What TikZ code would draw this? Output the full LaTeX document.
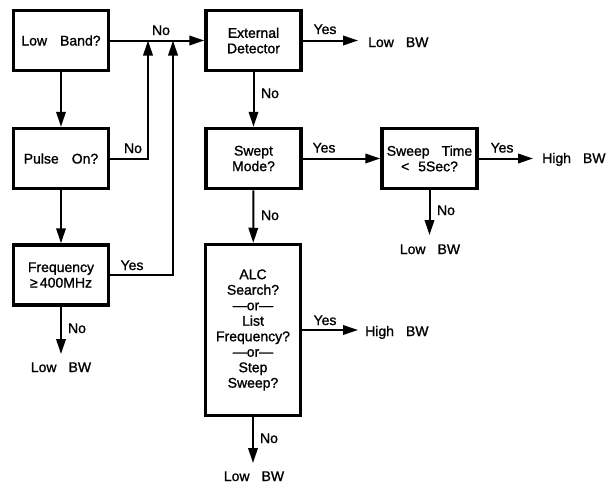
\documentclass[tikz,border=0pt]{standalone}
\usepackage{fontspec}
\newfontfamily\diagfont[FakeBold=1.2]{Liberation Sans}
\usetikzlibrary{arrows.meta}
\begin{document}
\begin{tikzpicture}[x=1pt,y=-1pt,
  box/.style={draw, line width=3.5pt, inner sep=0pt, align=center,
    minimum width=95pt, minimum height=60pt, font=\diagfont\fontsize{14}{15.5}\selectfont},
  arr/.style={line width=2pt, -{Triangle[length=15pt,width=9.5pt]}},
  lbl/.style={inner sep=0pt, anchor=base, font=\diagfont\fontsize{14}{15.5}\selectfont}]
\useasboundingbox (0,0) rectangle (608,485);
% boxes
\node[box] (b1) at (61,40.5) {Low\hspace{13pt}Band?};
\node[box] (ext) at (253.5,40.5) {External\\Detector};
\node[box] (pulse) at (61,158.5) {Pulse\hspace{13pt}On?};
\node[box] (freq) at (61,275) {Frequency\\≥\,400MHz};
\node[box] (swept) at (253.5,158.5) {Swept\\Mode?};
\node[box, minimum height=171pt] (alc) at (253,330) {ALC\\Search?\\—or—\\List\\Frequency?\\—or—\\Step\\Sweep?};
\node[box] (stime) at (429.5,158.5) {Sweep\hspace{12pt}Time\\<\hspace{9pt}5Sec?};
% coordinates
\coordinate (j1) at (148,40.5);
\coordinate (j2) at (173,40.5);
\coordinate (e1) at (61,354);
\coordinate (e2) at (358,40.5);
\coordinate (e3) at (533,158.5);
\coordinate (e4) at (429.5,235);
\coordinate (e5) at (358,330);
\coordinate (e6) at (253,463);
% connectors
\draw[arr] (b1) -- (ext);
\draw[arr] (b1) -- (pulse);
\draw[arr] (pulse) -- (freq);
\draw[arr] (pulse.east) -| (j1);
\draw[arr] (freq.east) -| (j2);
\draw[arr] (freq) -- (e1);
\draw[arr] (ext) -- (e2);
\draw[arr] (ext) -- (swept);
\draw[arr] (swept) -- (stime);
\draw[arr] (swept) -- (alc);
\draw[arr] (stime) -- (e3);
\draw[arr] (stime) -- (e4);
\draw[arr] (alc.east) -- (e5);
\draw[arr] (alc) -- (e6);
% labels
\node[lbl] (l1) at (161,35) {No};
\node[lbl] (l2) at (133,153) {No};
\node[lbl] (l3) at (132,270) {Yes};
\node[lbl] (l4) at (77,333) {No};
\node[lbl] (l5) at (61,372) {Low\hspace{12pt}BW};
\node[lbl] (l6) at (325,34) {Yes};
\node[lbl, anchor=base west] (l7) at (368,47) {Low\hspace{12pt}BW};
\node[lbl] (l8) at (270,98) {No};
\node[lbl] (l9) at (324,152.5) {Yes};
\node[lbl] (l10) at (270,220) {No};
\node[lbl] (l11) at (325,325) {Yes};
\node[lbl, anchor=base west] (l12) at (365,336) {High\hspace{12pt}BW};
\node[lbl] (l13) at (269,443) {No};
\node[lbl] (l14) at (254,481) {Low\hspace{12pt}BW};
\node[lbl] (l15) at (502,152.5) {Yes};
\node[lbl, anchor=base west] (l16) at (542,163) {High\hspace{12pt}BW};
\node[lbl] (l17) at (446,215) {No};
\node[lbl] (l18) at (430,254) {Low\hspace{12pt}BW};
\end{tikzpicture}
\end{document}
